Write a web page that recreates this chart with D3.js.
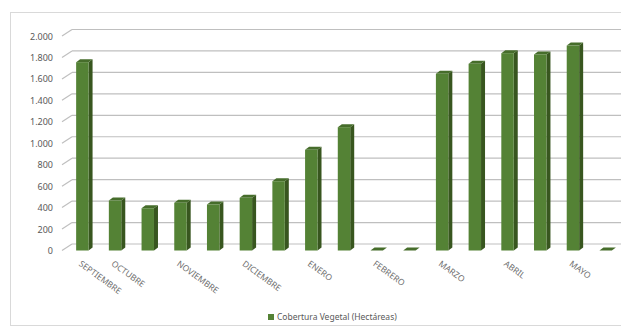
<!DOCTYPE html>
<html>
<head>
<meta charset="utf-8">
<script src="https://cdn.jsdelivr.net/npm/d3@7"></script>
<style>
  body { margin: 0; background: #fff; }
  text { font-family: "Noto Sans", sans-serif; fill: #595959; }
</style>
</head>
<body>
<svg id="chart" width="621" height="327"></svg>
<script>
// categories (some slots carry no label in the original)
const categories = ["SEPTIEMBRE", "OCTUBRE", "", "NOVIEMBRE", "", "DICIEMBRE", "", "ENERO", "",
    "FEBRERO", "", "MARZO", "", "ABRIL", "", "MAYO", ""];
const coverage = [1756, 466, 394, 445, 429, 491, 646, 939, 1150, 0, 0, 1648, 1741, 1840, 1828, 1911, 0];
const yTicks = [0, 200, 400, 600, 800, 1000, 1200, 1400, 1600, 1800, 2000];
const seriesName = "Cobertura Vegetal (Hectáreas)";

const svg = d3.select("#chart");
const fmt = d3.formatLocale({ decimal: ",", thousands: ".", grouping: [3], currency: ["", ""] }).format(",d");

// depth offsets for the fake 3d
const wallDx = 10, wallDy = -6.5;
const barDx = 4, barDy = -3;

const x = d3.scaleBand()
    .domain(d3.range(categories.length))
    .range([66, 622])
    .paddingInner(0.62)
    .paddingOuter(0.31);

const y = d3.scaleLinear().domain([0, 2000]).range([250.5, 36]);

// outer chart border
svg.append("rect")
    .attr("x", 10.5).attr("y", 12.5)
    .attr("width", 630).attr("height", 313)
    .attr("fill", "none")
    .attr("stroke", "#d9d9d9");

// back wall gridlines + diagonal ticks
const grid = svg.append("g");
yTicks.forEach((t) => {
    grid.append("line")
        .attr("x1", 62).attr("y1", y(t))
        .attr("x2", 62 + wallDx).attr("y2", y(t) + wallDy)
        .attr("stroke", "#bfbfbf")
        .attr("stroke-width", 1.2);
    grid.append("line")
        .attr("x1", 62 + wallDx).attr("y1", y(t) + wallDy)
        .attr("x2", 621).attr("y2", y(t) + wallDy)
        .attr("stroke", "#bfbfbf")
        .attr("stroke-width", 1.2);
    grid.append("text")
        .attr("x", 53).attr("y", y(t) + 3.5)
        .attr("text-anchor", "end")
        .style("font-size", "9px")
        .text(fmt(t));
});

// bars
const bars = svg.append("g").selectAll("g")
    .data(coverage)
    .join("g");

bars.append("path") // right side
    .attr("d", (d, i) => {
        const x1 = x(i) + x.bandwidth(), y0 = y(0), y1 = y(d);
        return `M${x1},${y0} L${x1 + barDx},${y0 + barDy} L${x1 + barDx},${y1 + barDy} L${x1},${y1} Z`;
    })
    .attr("fill", "#38561f");

bars.append("path") // top
    .attr("d", (d, i) => {
        const x0 = x(i), x1 = x(i) + x.bandwidth(), y1 = y(d);
        return `M${x0},${y1} L${x1},${y1} L${x1 + barDx},${y1 + barDy} L${x0 + barDx},${y1 + barDy} Z`;
    })
    .attr("fill", "#466d2b");

bars.append("rect") // front
    .attr("x", (d, i) => x(i))
    .attr("y", (d) => y(d))
    .attr("width", x.bandwidth())
    .attr("height", (d) => y(0) - y(d))
    .attr("fill", "#548235");

// category labels
svg.append("g").selectAll("text")
    .data(categories)
    .join("text")
    .attr("transform", (d, i) => `translate(${x(i) + 2},${265}) rotate(36)`)
    .style("font-size", "8.5px")
    .style("fill", "#707070")
    .text((d) => d);

// legend
const legend = svg.append("g").attr("transform", "translate(268,317)");
legend.append("rect")
    .attr("x", 0).attr("y", -3)
    .attr("width", 6).attr("height", 6)
    .attr("fill", "#548235");
legend.append("text")
    .attr("x", 9).attr("y", 3)
    .style("font-size", "8.5px")
    .text(seriesName);
</script>
</body>
</html>
